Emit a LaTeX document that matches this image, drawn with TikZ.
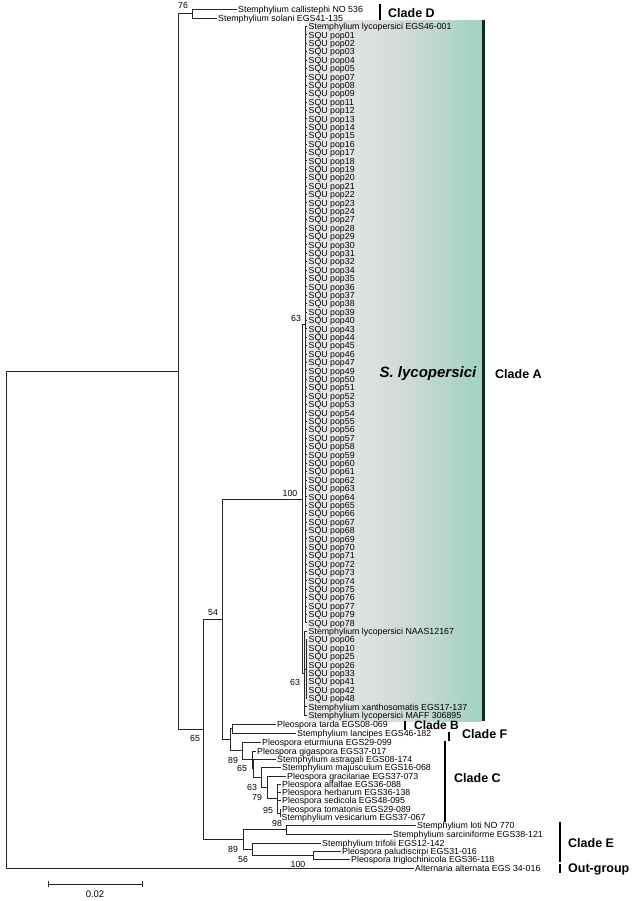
\documentclass[tikz,border=0pt]{standalone}
\usepackage{fontspec}
\setmainfont{Liberation Sans}
\definecolor{tealend}{RGB}{160,210,192}
\definecolor{grayst}{RGB}{236,236,234}
\definecolor{graymid}{RGB}{214,220,217}
\definecolor{bardark}{RGB}{20,40,30}
\begin{document}
\begin{tikzpicture}[x=1pt,y=-1pt,
  leaf/.style={anchor=west, inner xsep=1.5pt, inner ysep=0pt, text height=6.3pt, text depth=0pt, font=\fontsize{8.8}{9}\selectfont},
  boot/.style={inner sep=0pt, font=\fontsize{8.8}{9}\selectfont},
  cladelbl/.style={anchor=west, inner sep=0pt, font=\fontsize{12.5}{13}\selectfont\bfseries},
  br/.style={line width=0.9pt, draw=black!85},
  cbar/.style={line width=2.6pt, draw=black}]
\useasboundingbox (0,0) rectangle (638,901);
% shaded band
\shade[left color=grayst, right color=tealend, middle color=graymid] (305,20.5) rectangle (482,721);
\draw[line width=2.4pt, draw=bardark] (483.5,20.5) coordinate (barAt) -- (483.5,721) coordinate (barAb);
% internal nodes
\coordinate (R) at (6,371.5);
\coordinate (n178) at (178,371.5);
\coordinate (nD) at (192,13.8);
\coordinate (n203) at (203,729.3);
\coordinate (n222) at (222,619.3);
\coordinate (nA) at (302,499);
\coordinate (nA1) at (305,324.7);
\coordinate (nA2) at (304,673.3);
\coordinate (nA3) at (306,669.1);
\coordinate (n230) at (230,739.6);
\coordinate (nBF) at (232,728.5);
\coordinate (nC1) at (242,750.75);
\coordinate (nC2) at (252,759.5);
\coordinate (nC2b) at (253,768.25);
\coordinate (nC3) at (261,777.75);
\coordinate (nC4) at (267,787.5);
\coordinate (nC5) at (277,798.5);
\coordinate (nC6) at (280,813);
\coordinate (nE) at (243,839.25);
\coordinate (nE1) at (286,829.5);
\coordinate (nE2) at (252,849);
\coordinate (nE3) at (313,855);
% leaves outside clade A
\node[leaf] (callis) at (236.5,9.3) {Stemphylium callistephi NO 536};
\node[leaf] (solani) at (216.5,18.3) {Stemphylium solani EGS41-135};
\node[leaf] (tarda) at (275.5,724) {Pleospora tarda EGS08-069};
\node[leaf] (lanc) at (295.5,733.5) {Stemphylium lancipes EGS46-182};
\node[leaf] (etur) at (260.5,742) {Pleospora eturmiuna EGS29-099};
\node[leaf] (giga) at (255.5,751) {Pleospora gigaspora EGS37-017};
\node[leaf] (astr) at (275.5,759.5) {Stemphylium astragali EGS08-174};
\node[leaf] (maju) at (280.5,767.5) {Stemphylium majusculum EGS16-068};
\node[leaf] (grac) at (285.5,776) {Pleospora gracilariae EGS37-073};
\node[leaf] (alfa) at (280.5,784) {Pleospora alfalfae EGS36-088};
\node[leaf] (herb) at (280.5,792.3) {Pleospora herbarum EGS36-138};
\node[leaf] (sedi) at (280.5,800.6) {Pleospora sedicola EGS48-095};
\node[leaf] (toma) at (280.5,809) {Pleospora tomatonis EGS29-089};
\node[leaf] (vesi) at (280,817.3) {Stemphylium vesicarium EGS37-067};
\node[leaf] (loti) at (415.5,825.5) {Stemphylium loti NO 770};
\node[leaf] (sarc) at (391.5,834) {Stemphylium sarciniforme EGS38-121};
\node[leaf] (trif) at (320.5,843) {Stemphylium trifolii EGS12-142};
\node[leaf] (palu) at (340.5,851.3) {Pleospora paludiscirpi EGS31-016};
\node[leaf] (trig) at (349.5,859.5) {Pleospora triglochinicola EGS36-118};
\node[leaf] (alt) at (413.5,868.5) {Alternaria alternata EGS 34-016};
% clade A leaves
\foreach \t [count=\k] in {Stemphylium lycopersici EGS46-001,SQU pop01,SQU pop02,SQU pop03,SQU pop04,SQU pop05,SQU pop07,SQU pop08,SQU pop09,SQU pop11,SQU pop12,SQU pop13,SQU pop14,SQU pop15,SQU pop16,SQU pop17,SQU pop18,SQU pop19,SQU pop20,SQU pop21,SQU pop22,SQU pop23,SQU pop24,SQU pop27,SQU pop28,SQU pop29,SQU pop30,SQU pop31,SQU pop32,SQU pop34,SQU pop35,SQU pop36,SQU pop37,SQU pop38,SQU pop39,SQU pop40,SQU pop43,SQU pop44,SQU pop45,SQU pop46,SQU pop47,SQU pop49,SQU pop50,SQU pop51,SQU pop52,SQU pop53,SQU pop54,SQU pop55,SQU pop56,SQU pop57,SQU pop58,SQU pop59,SQU pop60,SQU pop61,SQU pop62,SQU pop63,SQU pop64,SQU pop65,SQU pop66,SQU pop67,SQU pop68,SQU pop69,SQU pop70,SQU pop71,SQU pop72,SQU pop73,SQU pop74,SQU pop75,SQU pop76,SQU pop77,SQU pop79,SQU pop78}{
  \node[leaf] (a\k) at (307,{26.5+(\k-1)*8.4}) {\t};
  \draw[br] (nA1) |- (a\k.west);
}
\node[leaf] (a73) at (307,631.3) {Stemphylium lycopersici NAAS12167};
\foreach \t [count=\j from 74] in {SQU pop06,SQU pop10,SQU pop25,SQU pop26,SQU pop33,SQU pop41,SQU pop42,SQU pop48}{
  \node[leaf] (a\j) at (307,{26.5+(\j-1)*8.4}) {\t};
  \draw[br] (nA3) |- (a\j.west);
}
\node[leaf] (a82) at (307,706.9) {Stemphylium xanthosomatis EGS17-137};
\node[leaf] (a83) at (307,715.1) {Stemphylium lycopersici MAFF 306895};
% branches
\draw[br] (R) |- (n178);
\draw[br] (R) |- (alt.west);
\draw[br] (n178) |- (nD);
\draw[br] (n178) |- (n203);
\draw[br] (nD) |- (callis.west);
\draw[br] (nD) |- (solani.west);
\draw[br] (n203) |- (n222);
\draw[br] (n203) |- (nE);
\draw[br] (n222) |- (nA);
\draw[br] (n222) |- (n230);
\draw[br] (nA) |- (nA1);
\draw[br] (nA) |- (nA2);
\draw[br] (nA2) |- (a73.west);
\draw[br] (nA2) |- (nA3);
\draw[br] (nA2) |- (a82.west);
\draw[br] (nA2) |- (a83.west);
\draw[br] (n230) |- (nBF);
\draw[br] (n230) |- (nC1);
\draw[br] (nBF) |- (tarda.west);
\draw[br] (nBF) |- (lanc.west);
\draw[br] (nC1) |- (etur.west);
\draw[br] (nC1) |- (nC2);
\draw[br] (nC2) |- (giga.west);
\draw[br] (nC2) |- (nC2b);
\draw[br] (nC2b) |- (astr.west);
\draw[br] (nC2b) |- (nC3);
\draw[br] (nC3) |- (maju.west);
\draw[br] (nC3) |- (nC4);
\draw[br] (nC4) |- (grac.west);
\draw[br] (nC4) |- (nC5);
\draw[br] (nC5) |- (alfa.west);
\draw[br] (nC5) |- (herb.west);
\draw[br] (nC5) |- (sedi.west);
\draw[br] (nC5) |- (nC6);
\draw[br] (nC6) |- (toma.west);
\draw[br] (nC6) |- (vesi.west);
\draw[br] (nE) |- (nE1);
\draw[br] (nE) |- (nE2);
\draw[br] (nE1) |- (loti.west);
\draw[br] (nE1) |- (sarc.west);
\draw[br] (nE2) |- (trif.west);
\draw[br] (nE2) |- (nE3);
\draw[br] (nE3) |- (palu.west);
\draw[br] (nE3) |- (trig.west);
% bootstrap values
\node[boot] (b76) at (183,5) {76};
\node[boot] (b63a) at (296,318) {63};
\node[boot] (b100a) at (290,493) {100};
\node[boot] (b54) at (213,613) {54};
\node[boot] (b63b) at (295,682.5) {63};
\node[boot] (b65a) at (195,738) {65};
\node[boot] (b89a) at (233,760) {89};
\node[boot] (b65b) at (242,768.5) {65};
\node[boot] (b63c) at (252,787) {63};
\node[boot] (b79) at (257,797) {79};
\node[boot] (b95) at (268,810) {95};
\node[boot] (b98) at (277,823) {98};
\node[boot] (b89b) at (233,849) {89};
\node[boot] (b56) at (243,859) {56};
\node[boot] (b100b) at (298,864.5) {100};
% clade labels
\node[inner sep=0pt, font=\fontsize{15}{16}\selectfont\bfseries\itshape] (slyc) at (428,374) {S. lycopersici};
\draw[cbar] (380,4) coordinate (dT) -- (380,20.5) coordinate (dB);
\node[cladelbl] (cD) at (388,12.7) {Clade D};
\node[cladelbl] (cA) at (495,374) {Clade A};
\draw[cbar] (405,721) coordinate (bT) -- (405,729.5) coordinate (bB);
\node[cladelbl, font=\fontsize{12}{13}\selectfont\bfseries] (cB) at (414,725) {Clade B};
\draw[cbar] (449,732) coordinate (fT) -- (449,740.5) coordinate (fB);
\node[cladelbl] (cF) at (462,734.5) {Clade F};
\draw[cbar] (445,741) coordinate (cT) -- (445,822) coordinate (cBo);
\node[cladelbl] (cC) at (454,778) {Clade C};
\draw[cbar] (560,822) coordinate (eT) -- (560,862) coordinate (eB);
\node[cladelbl] (cE) at (568,843) {Clade E};
\draw[cbar] (560,864) coordinate (oT) -- (560,873) coordinate (oB);
\node[cladelbl] (cO) at (568,869) {Out-group};
% scale bar
\coordinate (s1) at (48,884);
\coordinate (s2) at (142,884);
\draw[br] (s1) -- (s2);
\draw[br] ([yshift=-3]s1) -- ([yshift=3]s1);
\draw[br] ([yshift=-3]s2) -- ([yshift=3]s2);
\node[inner sep=0pt, font=\fontsize{9.5}{10}\selectfont] (sc) at (95,894) {0.02};
\end{tikzpicture}
\end{document}
